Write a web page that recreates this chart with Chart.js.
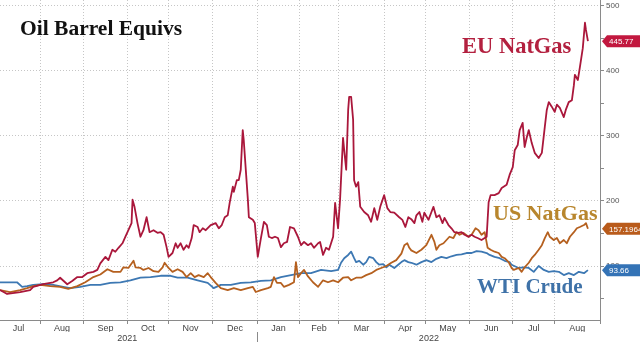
<!DOCTYPE html>
<html>
<head>
<meta charset="utf-8">
<script src="https://cdn.jsdelivr.net/npm/chart.js@4.4.0/dist/chart.umd.min.js"></script>
<style>
    html, body { margin: 0; padding: 0; background: #ffffff; }
    #wrap { width: 640px; height: 342px; }
</style>
</head>
<body>
<div id="wrap"><canvas id="oilChart" width="640" height="342"></canvas></div>
<script>
// x values are trading-day indexes counted from 1 Jul 2021
const monthStart = [0, 22, 44, 66, 87, 109, 132, 153, 173, 196, 217, 239, 261, 282, 305]
const monthName = ['Jul', 'Aug', 'Sep', 'Oct', 'Nov', 'Dec', 'Jan', 'Feb', 'Mar', 'Apr', 'May', 'Jun', 'Jul', 'Aug']
const yearName = ['2021', '2022']
const yearBreak = 132
const yTickValues = [50, 100, 150, 200, 250, 300, 350, 400, 450, 500]

const euDay = [
    1.7, 5.3, 11.9, 16.9, 18.5, 23.5, 28.6, 30.6, 32.1, 35.7,
    38.2, 40.8, 43.3, 45.8, 48.9, 50.9, 52.4, 55, 56.5, 58.5,
    60, 61.6, 63.6, 65.1, 66.6, 68.2, 68.7, 69.7, 71.2, 72.7,
    74.2, 75.8, 77.3, 79.3, 81.3, 82.9, 84.4, 85.9, 86.9, 88.9,
    90.5, 91.5, 93, 94.5, 96, 97.1, 98.6, 99.6, 101.6, 102.6,
    104.2, 105.7, 108.2, 110.7, 112.3, 113.8, 115.3, 116.8, 117.8, 119.4,
    119.9, 121.4, 122.4, 123.4, 124.4, 124.9, 127, 127.5, 129.5, 130.5,
    132, 133.6, 135.1, 136.6, 137.6, 139.1, 140.7, 142.2, 143.7, 145.2,
    146.8, 148.3, 150.3, 152.3, 153.9, 155.4, 157.4, 158.9, 160.4, 162.5,
    163.5, 165, 166.5, 168, 170.1, 171.1, 172.6, 173.6, 175.1, 175.7,
    176.7, 177.7, 178.2, 179.2, 180.2, 180.7, 181.7, 182.8, 183.8, 185.8,
    187.8, 189.3, 190.9, 192.4, 193.9, 195.9, 197.5, 199, 201, 203.5,
    205.1, 206.6, 208.1, 209.6, 211.2, 212.2, 213.7, 215.2, 216.2, 218.3,
    219.8, 220.8, 222.3, 223.8, 225.4, 226.4, 228.4, 229.9, 231.4, 233.5,
    235, 236.5, 238.5, 240.1, 241.6, 243.1, 245.1, 246.7, 247.7, 248.7,
    249.7, 251.7, 253.8, 255.3, 257.8, 259.3, 260.9, 261.9, 263.4, 264.4,
    265.9, 266.9, 268, 269, 270.5, 272, 274, 275.6, 277.1, 278.1,
    279.1, 280.6, 282.1, 283.2, 284.7, 286.7, 287.7, 289.2, 290.8, 291.8,
    292.3, 293.8, 294.8, 296.3, 297.4, 297.9, 298.9
]
const euValue = [
    63, 57, 60, 63, 68, 72, 75, 78, 82, 72,
    77, 83, 83, 89, 91, 94, 104, 114, 109, 125,
    122, 128, 135, 145, 155, 166, 202, 191, 166, 145,
    155, 175, 152, 155, 151, 152, 148, 129, 114, 120,
    135, 128, 135, 125, 132, 128, 143, 163, 160, 152,
    158, 155, 163, 166, 158, 163, 175, 178, 197, 222,
    214, 232, 232, 248, 309, 294, 202, 175, 171, 166,
    114, 143, 168, 163, 145, 143, 145, 143, 129, 135,
    137, 160, 158, 145, 132, 137, 132, 135, 128, 135,
    137, 117, 128, 125, 145, 197, 158, 202, 297, 278,
    248, 340, 360, 360, 325, 232, 222, 229, 191, 183,
    178, 168, 189, 171, 191, 209, 189, 183, 182, 175,
    171, 160, 175, 172, 166, 178, 183, 168, 182, 171,
    183, 191, 175, 178, 166, 174, 163, 158, 152, 151,
    152, 148, 145, 148, 145, 143, 140, 143, 145, 198,
    209, 209, 212, 220, 225, 240, 252, 278, 286, 309,
    320, 283, 298, 309, 289, 274, 266, 274, 314, 340,
    352, 345, 337, 348, 343, 329, 340, 352, 355, 378,
    394, 386, 405, 435, 474, 463, 445.77
]

const usDay = [
    1.7, 6.8, 11.9, 15.4, 18.5, 22, 27.1, 32.1, 36.2, 40.8,
    44.8, 48.9, 52.4, 56, 59, 62.6, 64.1, 66.6, 69.2, 70.2,
    72.7, 74.2, 76.8, 79.3, 81.8, 83.9, 84.9, 86.9, 88.9, 91.5,
    94, 96, 98.1, 100.1, 102.1, 104.7, 106.7, 108.2, 110.7, 113.3,
    116.8, 119.9, 123.4, 127, 129.5, 131, 133.6, 137.1, 138.6, 140.2,
    141.7, 143.7, 145.2, 147.8, 150.3, 151.3, 152.3, 153.9, 155.4, 157.4,
    159.9, 162.5, 165, 167.5, 170.1, 172.6, 175.1, 177.7, 179.2, 181.7,
    184.3, 186.8, 189.4, 191.9, 194.4, 197, 199.5, 202, 204.6, 206.1,
    207.6, 208.6, 209.6, 212.2, 214.7, 217.2, 219.8, 221.3, 222.3, 223.8,
    225.9, 227.4, 228.9, 230.9, 232.5, 234, 236, 238.5, 240.1, 242.1,
    243.6, 245.1, 246.7, 248.2, 249.7, 251.7, 253.8, 255.3, 256.8, 258.8,
    260.3, 261.4, 263.9, 265.4, 266.9, 269, 270.5, 272, 274, 275.6,
    277.1, 278.6, 279.6, 281.6, 283.2, 284.7, 286.7, 288.2, 289.8, 291.8,
    293.3, 294.8, 296.9, 297.9, 298.9
]
const usValue = [
    63, 60, 63, 66, 69, 71, 69, 68, 65, 69,
    75, 83, 87, 95, 91, 91, 98, 97, 108, 98,
    97, 94, 97, 92, 91, 98, 105, 97, 91, 95,
    91, 83, 89, 83, 86, 83, 89, 83, 74, 66,
    63, 66, 63, 66, 68, 60, 63, 66, 68, 83,
    74, 74, 68, 71, 75, 106, 83, 89, 94, 84,
    75, 68, 78, 75, 78, 75, 82, 83, 78, 82,
    82, 86, 89, 94, 97, 100, 105, 109, 119, 132,
    135, 128, 124, 120, 125, 132, 148, 137, 125, 132,
    135, 140, 145, 143, 152, 148, 151, 145, 148, 158,
    155, 148, 152, 128, 125, 122, 120, 114, 112, 106,
    97, 94, 97, 91, 98, 105, 112, 117, 125, 132,
    143, 152, 145, 140, 143, 135, 140, 135, 145, 152,
    158, 160, 163, 166, 157.1964
]

const wtiDay = [
    1.7, 10.3, 12.9, 15.4, 18.5, 23.5, 28.6, 33.7, 37.2, 42.3,
    47.4, 52.4, 57.5, 62.6, 67.6, 72.7, 77.8, 82.9, 87.9, 91.5,
    96.5, 101.6, 106.7, 109.7, 113.3, 118.4, 123.4, 128.5, 133.6, 138.6,
    143.7, 148.8, 153.9, 158.9, 164, 169.1, 172.6, 174.1, 175.7, 177.7,
    179.2, 180.7, 181.7, 183.3, 185.3, 186.8, 188.3, 190.4, 191.9, 193.4,
    195.4, 197, 198.5, 201, 203, 204.6, 206.1, 208.1, 209.6, 212.2,
    214.7, 217.2, 219.8, 222.3, 224.8, 227.4, 229.9, 232.5, 235, 237.5,
    240.1, 242.6, 245.1, 247.7, 249.2, 251.7, 254.3, 256.8, 259.3, 260.3,
    263.9, 266.4, 269, 271.5, 274, 276.6, 279.1, 281.6, 284.2, 286.7,
    289.2, 291.8, 294.3, 296.9, 298.9
]
const wtiValue = [
    75, 75, 68, 69, 71, 72, 71, 68, 66, 68,
    71, 71, 74, 75, 78, 82, 83, 85, 85, 82,
    82, 78, 74, 66, 71, 71, 74, 75, 77, 78,
    83, 86, 89, 89, 94, 92, 94, 105, 112, 117,
    122, 112, 106, 108, 102, 106, 114, 112, 106, 102,
    103, 98, 102, 97, 102, 106, 109, 106, 105, 102,
    106, 109, 106, 111, 114, 112, 115, 117, 118, 120,
    120, 123, 122, 120, 117, 114, 112, 108, 106, 102,
    97, 98, 97, 91, 100, 94, 91, 92, 91, 86,
    89, 86, 91, 89, 93.66
]

const series = [
    { name: 'EU NatGas', days: euDay, values: euValue, line: '#aa173b', text: '#b3203f', tag: '#c2183f', tagText: '445.77' },
    { name: 'US NatGas', days: usDay, values: usValue, line: '#b5601f', text: '#b8862d', tag: '#b95b1b', tagText: '157.1964' },
    { name: 'WTI Crude', days: wtiDay, values: wtiValue, line: '#3d78b3', text: '#3f72a8', tag: '#3473b6', tagText: '93.66' }
]

const xMin = 1.7
const xMax = 305
const monthMid = monthName.map((n, i) => (monthStart[i] + monthStart[i + 1]) / 2)
const yearMid = [(monthStart[0] + yearBreak) / 2, (yearBreak + monthStart[monthStart.length - 1]) / 2]

const textPlugin = {
    id: 'textPlugin',
    afterDraw(chart) {
        const { ctx, chartArea, scales } = chart
        ctx.save()
        ctx.textBaseline = 'alphabetic'
        ctx.textAlign = 'left'
        ctx.font = 'bold 21.5px "Liberation Serif"'
        ctx.fillStyle = '#111111'
        ctx.fillText('Oil Barrel Equivs', 20, 35)

        const namePos = [[462, 53, 22.5], [493, 220, 22], [477, 293, 21]]
        series.forEach((s, i) => {
            ctx.font = 'bold ' + namePos[i][2] + 'px "Liberation Serif"'
            ctx.fillStyle = s.text
            ctx.fillText(s.name, namePos[i][0], namePos[i][1])
        })

        // last value tags on the right axis
        ctx.font = '8px "Liberation Sans"'
        ctx.textBaseline = 'middle'
        series.forEach((s) => {
            const yPix = scales.y.getPixelForValue(s.values[s.values.length - 1])
            const x0 = chartArea.right + 2
            ctx.fillStyle = s.tag
            ctx.beginPath()
            ctx.moveTo(x0, yPix)
            ctx.lineTo(x0 + 5, yPix - 6)
            ctx.lineTo(chart.width, yPix - 6)
            ctx.lineTo(chart.width, yPix + 6)
            ctx.lineTo(x0 + 5, yPix + 6)
            ctx.closePath()
            ctx.fill()
            ctx.fillStyle = '#ffffff'
            ctx.fillText(s.tagText, x0 + 7, yPix + 0.5)
        })
        ctx.restore()
    }
}

new Chart(document.getElementById('oilChart'), {
    type: 'line',
    data: {
        datasets: series.map((s) => ({
            label: s.name,
            data: s.days.map((d, i) => ({ x: d, y: s.values[i] })),
            borderColor: s.line,
            borderWidth: 1.8,
            borderJoinStyle: 'round',
            pointRadius: 0,
            tension: 0,
            fill: false
        }))
    },
    options: {
        responsive: false,
        animation: false,
        devicePixelRatio: 1,
        layout: { padding: 0 },
        plugins: {
            legend: { display: false },
            tooltip: { enabled: false }
        },
        scales: {
            x: {
                type: 'linear',
                position: 'bottom',
                min: xMin,
                max: xMax,
                afterBuildTicks: (scale) => {
                    scale.ticks = monthStart.concat(monthMid)
                        .filter((v) => v >= xMin && v <= xMax)
                        .sort((a, b) => a - b)
                        .map((v) => ({ value: v }))
                },
                afterFit: (scale) => { scale.height = 12 },
                grid: {
                    color: (c) => (c.tick && monthStart.includes(c.tick.value) ? '#c6c6c6' : 'rgba(0,0,0,0)'),
                    tickColor: (c) => (c.tick && monthStart.includes(c.tick.value) ? '#8a8a8a' : 'rgba(0,0,0,0)'),
                    tickLength: 4
                },
                border: { display: true, color: '#8a8a8a', width: 1, dash: [1, 2] },
                ticks: {
                    autoSkip: false,
                    maxRotation: 0,
                    padding: -1,
                    color: '#444444',
                    font: { size: 9, family: '"Liberation Sans"' },
                    callback: (value) => {
                        const k = monthMid.indexOf(value)
                        return k < 0 ? '' : monthName[k]
                    }
                }
            },
            year: {
                type: 'linear',
                position: 'bottom',
                weight: 1,
                min: xMin,
                max: xMax,
                afterBuildTicks: (scale) => {
                    scale.ticks = [yearMid[0], yearBreak, yearMid[1]].map((v) => ({ value: v }))
                },
                afterFit: (scale) => { scale.height = 10 },
                grid: {
                    drawOnChartArea: false,
                    tickLength: 10,
                    tickColor: (c) => (c.tick && c.tick.value === yearBreak ? '#8a8a8a' : 'rgba(0,0,0,0)')
                },
                border: { display: false },
                ticks: {
                    autoSkip: false,
                    maxRotation: 0,
                    padding: -9,
                    color: '#444444',
                    font: { size: 9, family: '"Liberation Sans"' },
                    callback: (value) => {
                        const k = yearMid.indexOf(value)
                        return k < 0 ? '' : yearName[k]
                    }
                }
            },
            y: {
                type: 'linear',
                position: 'right',
                min: 17,
                max: 509,
                afterBuildTicks: (scale) => {
                    scale.ticks = yTickValues.map((v) => ({ value: v }))
                },
                afterFit: (scale) => {
                    scale.width = 40
                    scale.paddingTop = 0
                    scale.paddingBottom = 0
                },
                grid: {
                    color: (c) => (c.tick && c.tick.value % 100 === 0 ? '#c6c6c6' : 'rgba(0,0,0,0)'),
                    tickColor: '#8a8a8a',
                    tickLength: 4
                },
                border: { display: true, color: '#8a8a8a', width: 1, dash: [1, 2] },
                ticks: {
                    padding: 2,
                    color: '#555555',
                    font: { size: 8, family: '"Liberation Sans"' },
                    callback: (value) => (value % 100 === 0 ? value : '')
                }
            }
        }
    },
    plugins: [textPlugin]
})
</script>
</body>
</html>
